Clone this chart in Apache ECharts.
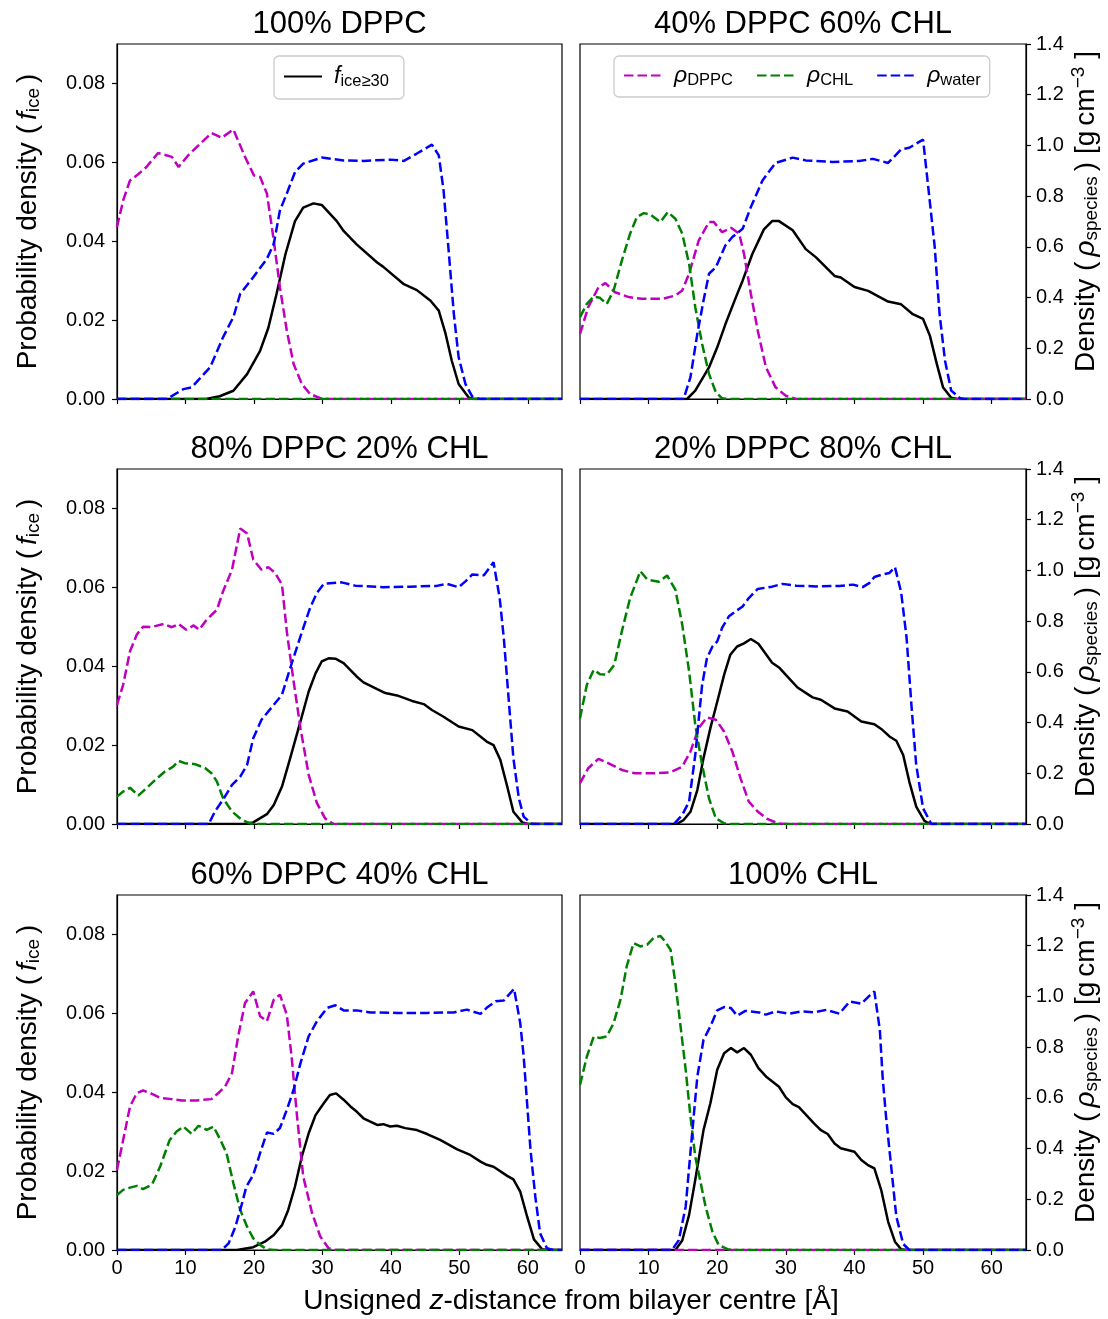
<!DOCTYPE html>
<html>
<head>
<meta charset="utf-8">
<script src="https://cdn.jsdelivr.net/npm/echarts@6/dist/echarts.min.js"></script>
<style>
html,body{margin:0;padding:0;background:#fff;}
#chart{width:1108px;height:1319px;}
</style>
</head>
<body>
<div id="chart"></div>
<script>
// ---------- data: [z (Å), value] ----------
var panelTitles = ['100% DPPC', '40% DPPC 60% CHL', '80% DPPC 20% CHL', '20% DPPC 80% CHL', '60% DPPC 40% CHL', '100% CHL'];
var xTicks = [0, 10, 20, 30, 40, 50, 60];
var fTicks = [0, 0.02, 0.04, 0.06, 0.08];

// 100% DPPC
var p1_fice = [[0,0],[13,0],[15,0.0007],[17,0.0021],[19,0.0063],[20.9,0.0122],[22.1,0.018],[23.3,0.0266],[24.6,0.0367],[26,0.0451],[27.2,0.0485],[28.7,0.0496],[29.9,0.0492],[32.1,0.0451],[33.1,0.0426],[35,0.0392],[38,0.0346],[38.9,0.0335],[41.9,0.0291],[43.8,0.0276],[45.8,0.0249],[47,0.0224],[48,0.0165],[48.9,0.0097],[49.9,0.0038],[51.4,0.0003],[52,0],[65,0]];
var p1_dppc = [[0,0.678],[0.9,0.783],[1.9,0.862],[2.9,0.882],[4.3,0.915],[6,0.97],[8,0.955],[9,0.915],[10.4,0.961],[11.9,1.0],[13.8,1.049],[15.3,1.03],[17,1.063],[18.7,0.955],[20,0.882],[20.9,0.876],[21.9,0.81],[22.9,0.625],[23.8,0.44],[24.8,0.27],[25.8,0.138],[27,0.059],[28.2,0.02],[29.7,0.003],[31,0],[65,0]];
var p1_chl = [[0,0],[65,0]];
var p1_water = [[0,0],[7.3,0],[9.7,0.039],[10.9,0.046],[13.6,0.125],[15.5,0.244],[17,0.323],[18,0.415],[19.9,0.48],[21.9,0.553],[22.9,0.612],[23.8,0.744],[24.8,0.81],[26,0.895],[27.2,0.928],[29.9,0.952],[33.1,0.941],[36,0.939],[39.9,0.944],[41.9,0.939],[43.8,0.968],[46,1.003],[47,0.961],[47.7,0.823],[48.4,0.599],[49.2,0.336],[49.9,0.165],[50.9,0.059],[51.9,0.009],[53,0],[65,0]];

// 40% DPPC 60% CHL
var p2_fice = [[0,0],[15.6,0],[16.8,0.0021],[18.8,0.008],[20,0.0131],[21.2,0.019],[22.7,0.0257],[23.7,0.03],[25.1,0.0367],[26.8,0.043],[28,0.0451],[29,0.0451],[31,0.0428],[32.9,0.038],[34.4,0.0359],[37.1,0.0312],[38,0.0308],[40,0.0284],[42,0.0274],[44.9,0.0247],[46.8,0.024],[48.5,0.0215],[50,0.0203],[51,0.016],[52,0.0089],[52.9,0.003],[54.1,0.0003],[55,0],[65,0]];
var p2_dppc = [[0,0.257],[1.2,0.362],[2.7,0.441],[3.7,0.457],[5.1,0.421],[7.1,0.402],[9,0.395],[12,0.395],[13.9,0.408],[14.9,0.428],[15.9,0.494],[17.3,0.625],[18.8,0.698],[19.5,0.698],[20.7,0.658],[22,0.675],[23.2,0.652],[23.9,0.573],[24.9,0.415],[25.9,0.27],[27.1,0.125],[28.5,0.046],[30,0.013],[31.5,0],[65,0]];
var p2_chl = [[0,0.323],[1,0.375],[2,0.404],[2.9,0.399],[3.9,0.375],[4.9,0.428],[6.1,0.546],[7.3,0.652],[8.3,0.718],[9.3,0.733],[10.2,0.728],[11.7,0.698],[12.8,0.737],[13.9,0.711],[14.9,0.652],[15.9,0.533],[16.8,0.362],[17.8,0.217],[18.8,0.099],[19.8,0.026],[20.7,0.003],[21.5,0],[65,0]];
var p2_water = [[0,0],[15.1,0],[16.1,0.086],[17.1,0.257],[18,0.388],[18.8,0.494],[19.8,0.52],[21.2,0.606],[22.2,0.639],[23.7,0.671],[24.9,0.757],[26.6,0.862],[28.5,0.931],[31,0.952],[32.9,0.941],[36.8,0.935],[40.7,0.939],[42.7,0.947],[44.9,0.931],[46.8,0.984],[48,0.991],[50,1.023],[50.7,0.849],[51.7,0.599],[52.4,0.336],[53.2,0.151],[54.1,0.033],[55.4,0.003],[56,0],[65,0]];

// 80% DPPC 20% CHL
var p3_fice = [[0,0],[18.5,0],[19.9,0.0004],[21.9,0.0025],[22.9,0.0048],[24.1,0.0095],[25.3,0.0167],[26.8,0.026],[28,0.0336],[29,0.0382],[29.9,0.0412],[30.9,0.042],[31.9,0.0419],[33.1,0.0408],[35,0.0374],[36,0.0359],[38,0.0342],[39.2,0.0332],[40.9,0.0326],[43.1,0.0312],[44.8,0.0304],[46,0.0289],[47.7,0.0272],[49.9,0.0247],[51.9,0.0238],[54,0.0209],[55,0.02],[56,0.0162],[57,0.0095],[57.9,0.0031],[59.2,0.0004],[60,0],[65,0]];
var p3_dppc = [[0,0.47],[0.9,0.549],[1.9,0.681],[2.9,0.747],[3.8,0.778],[5.1,0.777],[6.8,0.789],[8,0.776],[9,0.789],[10.1,0.766],[11.2,0.783],[12,0.766],[13.1,0.806],[14.6,0.845],[15.5,0.918],[16.8,1.003],[18,1.165],[19,1.146],[19.9,1.043],[21.1,1.003],[22.1,1.013],[23.1,0.99],[24.1,0.944],[24.8,0.76],[25.8,0.562],[26.8,0.378],[28,0.194],[29.2,0.082],[30.4,0.022],[31.6,0],[65,0]];
var p3_chl = [[0,0.108],[0.9,0.128],[1.9,0.143],[3.1,0.112],[4.3,0.141],[5.6,0.174],[7,0.207],[8.2,0.226],[9,0.249],[9.9,0.24],[11.4,0.236],[12.9,0.22],[13.8,0.2],[14.6,0.167],[15.5,0.101],[16.8,0.049],[18,0.022],[19,0.007],[19.9,0],[65,0]];
var p3_water = [[0,0],[13.4,0],[14.3,0.049],[15.6,0.101],[16.8,0.154],[18,0.187],[19,0.233],[19.9,0.338],[21.1,0.411],[22.9,0.47],[24.1,0.51],[25.3,0.615],[26.8,0.74],[28.2,0.852],[29.2,0.911],[30.2,0.947],[32.8,0.953],[34.8,0.94],[38.9,0.934],[42.8,0.936],[46.7,0.939],[48.2,0.947],[49.9,0.934],[50.9,0.957],[51.9,0.984],[53.6,0.981],[55,1.032],[55.9,0.891],[56.5,0.733],[57.2,0.496],[57.9,0.259],[58.7,0.101],[59.4,0.029],[60.6,0],[65,0]];

// 20% DPPC 80% CHL
var p4_fice = [[0,0],[14.1,0],[15.1,0.001],[16.1,0.0031],[17.1,0.0086],[18,0.0167],[19,0.0243],[20,0.031],[21,0.0378],[21.9,0.0429],[22.9,0.045],[23.9,0.0458],[24.9,0.0469],[26,0.0457],[28,0.0409],[29,0.0397],[30,0.0378],[31.7,0.0346],[33.9,0.0321],[35.1,0.0315],[37.1,0.0293],[39,0.0285],[41,0.026],[42.9,0.0253],[43.9,0.0241],[45.1,0.0222],[46.1,0.0211],[47.1,0.0175],[48,0.0107],[49,0.0044],[50.2,0.0008],[51,0],[65,0]];
var p4_dppc = [[0,0.161],[1.2,0.22],[2.7,0.257],[4.1,0.24],[6.1,0.213],[8,0.2],[11,0.2],[13.2,0.204],[14.9,0.226],[16.1,0.286],[17.3,0.378],[18.5,0.42],[19.8,0.411],[21,0.365],[22.2,0.286],[23.4,0.18],[24.6,0.088],[25.9,0.049],[27.3,0.02],[28.8,0.003],[30,0],[65,0]];
var p4_chl = [[0,0.417],[1,0.549],[2,0.608],[2.9,0.591],[3.9,0.589],[5,0.628],[6.1,0.76],[7.3,0.891],[8.8,0.997],[9.8,0.964],[11.5,0.955],[12.7,0.98],[13.9,0.924],[14.9,0.786],[15.9,0.602],[16.8,0.391],[17.8,0.233],[18.8,0.101],[19.8,0.022],[21,0.003],[22,0],[65,0]];
var p4_water = [[0,0],[13.7,0],[14.9,0.036],[15.9,0.088],[16.8,0.273],[17.8,0.549],[18.5,0.654],[19.3,0.7],[20,0.72],[20.7,0.773],[21.7,0.819],[22.7,0.839],[23.7,0.858],[24.6,0.891],[25.9,0.927],[28,0.936],[29.5,0.947],[31.5,0.94],[34.4,0.937],[37.8,0.939],[39.8,0.944],[41.2,0.934],[42.2,0.951],[42.9,0.974],[44.1,0.984],[45.1,0.99],[45.9,1.013],[46.8,0.915],[47.6,0.733],[48.3,0.47],[49,0.233],[50,0.062],[51.2,0],[65,0]];

// 60% DPPC 40% CHL
var p5_fice = [[0,0],[17.5,0],[19.9,0.0007],[21.6,0.0021],[22.9,0.0038],[24.1,0.0063],[25,0.0101],[26,0.0161],[27,0.0237],[28,0.0296],[29,0.0342],[30.2,0.0372],[31.1,0.0393],[32,0.0397],[33.1,0.0381],[34.1,0.0364],[35,0.0351],[36,0.0334],[38,0.0317],[38.9,0.0319],[39.9,0.0313],[40.9,0.0315],[42.1,0.0309],[43.8,0.0304],[45.3,0.0294],[47.2,0.0279],[49.7,0.0255],[51.6,0.0241],[53.1,0.0224],[54,0.0216],[55,0.0211],[57,0.0188],[57.9,0.0179],[58.9,0.0148],[59.9,0.0085],[60.9,0.0027],[62.1,0.0002],[63,0],[65,0]];
var p5_dppc = [[0,0.316],[0.9,0.434],[1.9,0.566],[2.9,0.619],[3.8,0.629],[5.1,0.616],[6.3,0.6],[7.7,0.596],[9.5,0.59],[11.6,0.59],[13.8,0.595],[14.8,0.619],[15.8,0.645],[16.8,0.698],[17.7,0.843],[18.7,0.974],[19.9,1.02],[20.9,0.922],[21.9,0.902],[22.9,0.987],[23.8,1.007],[24.8,0.928],[25.5,0.764],[26.3,0.527],[27.2,0.29],[28.5,0.145],[29.7,0.053],[30.9,0.007],[32,0],[65,0]];
var p5_chl = [[0,0.217],[0.9,0.237],[1.9,0.246],[2.9,0.253],[3.8,0.24],[5.1,0.257],[6.3,0.329],[7.7,0.434],[8.7,0.467],[9.7,0.487],[10.9,0.458],[11.9,0.49],[13.1,0.474],[14.1,0.487],[15.1,0.434],[16,0.382],[17,0.263],[18,0.158],[19,0.092],[19.9,0.046],[20.9,0.02],[21.9,0.003],[23,0],[65,0]];
var p5_water = [[0,0],[15.3,0],[16.3,0.026],[17.3,0.092],[18.2,0.178],[18.9,0.25],[19.9,0.296],[20.9,0.382],[21.9,0.463],[22.9,0.458],[23.8,0.481],[24.8,0.553],[25.8,0.632],[26.8,0.737],[28,0.843],[29.2,0.902],[30.7,0.955],[31.9,0.965],[33.1,0.945],[35,0.945],[37,0.937],[40.9,0.935],[45.3,0.935],[49.2,0.937],[51.1,0.948],[53.1,0.931],[54,0.955],[55.3,0.981],[56.5,0.984],[58,1.03],[58.9,0.895],[59.4,0.764],[59.9,0.579],[60.4,0.395],[61.1,0.211],[61.8,0.066],[62.8,0.007],[63.8,0],[65,0]];

// 100% CHL
var p6_fice = [[0,0],[13.9,0],[14.9,0.0024],[15.9,0.0089],[16.8,0.0178],[18,0.0304],[19,0.0372],[20,0.0457],[21,0.0499],[22,0.0512],[22.9,0.0501],[23.9,0.0512],[24.9,0.0495],[26,0.0461],[27.1,0.044],[29,0.0414],[30,0.0387],[31,0.037],[31.9,0.0362],[34.1,0.0321],[35.1,0.0304],[36.1,0.0294],[37.1,0.027],[38,0.0258],[40,0.0249],[41,0.0228],[41.9,0.0216],[42.9,0.0207],[43.9,0.0152],[44.9,0.0072],[45.9,0.0021],[46.8,0.0002],[47.5,0],[65,0]];
var p6_dppc = [[0,0],[65,0]];
var p6_chl = [[0,0.651],[1,0.763],[2,0.842],[2.9,0.836],[3.9,0.842],[4.9,0.895],[5.9,0.987],[6.8,1.118],[7.8,1.21],[8.8,1.197],[9.8,1.204],[10.7,1.23],[11.7,1.239],[12.4,1.217],[13.2,1.184],[13.9,1.053],[14.6,0.895],[15.4,0.711],[16.1,0.526],[16.8,0.368],[17.6,0.263],[18.3,0.171],[19.3,0.072],[20.2,0.02],[21.5,0.003],[22.5,0],[65,0]];
var p6_water = [[0,0],[13.4,0],[14.4,0.039],[15.4,0.171],[16.3,0.447],[17.1,0.684],[18,0.829],[19,0.882],[20,0.945],[21,0.958],[22,0.954],[22.9,0.924],[24.1,0.943],[26.1,0.937],[27.1,0.928],[28.5,0.941],[30.5,0.932],[32.2,0.941],[34.1,0.937],[35.9,0.947],[37.8,0.932],[39.3,0.98],[41,0.971],[42.2,1.003],[42.9,1.02],[43.7,0.868],[44.1,0.684],[44.6,0.526],[45.4,0.316],[46.1,0.132],[47.1,0.024],[48,0],[65,0]];

var panels = [
  [p1_fice, p1_dppc, p1_chl, p1_water],
  [p2_fice, p2_dppc, p2_chl, p2_water],
  [p3_fice, p3_dppc, p3_chl, p3_water],
  [p4_fice, p4_dppc, p4_chl, p4_water],
  [p5_fice, p5_dppc, p5_chl, p5_water],
  [p6_fice, p6_dppc, p6_chl, p6_water]
];

// ---------- layout / style ----------
var FONT = '"Liberation Sans", Arial, Helvetica, sans-serif';
var colLeft = [117, 580], colWidth = [445, 446];
var rowTop = [44, 469, 895], rowH = 355;
var AX = {color: '#000', width: 1.2};
var DASH = [9.5, 4];
var LW = 2.5;
var seriesNames = ['f', 'dppc', 'chl', 'water'];
var seriesColors = ['#000000', '#bf00bf', '#008000', '#0000ff'];

var grids = [], xAxes = [], yAxes = [], series = [], graphics = [];
var labelRich = {
  a: {fontSize: 28, fontFamily: FONT, verticalAlign: 'middle'},
  i: {fontSize: 28, fontFamily: FONT, fontStyle: 'italic', verticalAlign: 'middle'},
  s: {fontSize: 19, fontFamily: FONT, padding: [12, 0, 0, 0], verticalAlign: 'middle'},
  p: {fontSize: 19, fontFamily: FONT, padding: [0, 0, 14, 0], verticalAlign: 'middle'},
  g: {width: 5, fontSize: 10},
  h: {width: 8, fontSize: 10}
};
for (var i = 0; i < 6; i++) {
  var row = Math.floor(i / 2), col = i % 2;
  grids.push({left: colLeft[col], top: rowTop[row], width: colWidth[col], height: rowH,
    show: true, borderColor: '#000', borderWidth: 1.2, backgroundColor: '#fff', containLabel: false});
  xAxes.push({
    gridIndex: i, type: 'value', min: 0, max: 65,
    axisLine: {show: true, onZero: false, lineStyle: AX},
    axisTick: {show: true, inside: false, length: 5, lineStyle: AX, customValues: xTicks},
    axisLabel: {show: row === 2, customValues: xTicks, color: '#000', fontSize: 20, fontFamily: FONT, margin: 8},
    splitLine: {show: false}
  });
  yAxes.push({
    gridIndex: i, type: 'value', position: 'left', min: 0, max: 0.09, show: col === 0,
    axisLine: {show: true, onZero: false, lineStyle: AX},
    axisTick: {show: true, inside: false, length: 5, lineStyle: AX, customValues: fTicks},
    axisLabel: {show: true, customValues: fTicks, color: '#000', fontSize: 20, fontFamily: FONT, margin: 12,
      formatter: function (v) { return v.toFixed(2); }},
    splitLine: {show: false}
  });
  yAxes.push({
    gridIndex: i, type: 'value', position: 'right', min: 0, max: 1.4, interval: 0.2, show: col === 1,
    axisLine: {show: true, onZero: false, lineStyle: AX},
    axisTick: {show: true, inside: false, length: 5, lineStyle: AX},
    axisLabel: {show: true, color: '#000', fontSize: 20, fontFamily: FONT, margin: 10,
      formatter: function (v) { return v.toFixed(1); }},
    splitLine: {show: false}
  });
  for (var k = 0; k < 4; k++) {
    series.push({
      type: 'line', name: seriesNames[k], xAxisIndex: i, yAxisIndex: k === 0 ? 2 * i : 2 * i + 1,
      data: panels[i][k], showSymbol: false, symbol: 'none', smooth: false, animation: false,
      lineStyle: {color: seriesColors[k], width: LW, type: k === 0 ? 'solid' : DASH},
      itemStyle: {color: seriesColors[k]}, z: 2 + k
    });
  }
  // panel title
  graphics.push({type: 'text', x: colLeft[col] + colWidth[col] / 2, y: rowTop[row] - 20,
    style: {text: panelTitles[i], fontSize: 31, fontFamily: FONT, fill: '#000',
      textAlign: 'center', textVerticalAlign: 'middle'}});
  // y labels
  if (col === 0) {
    graphics.push({type: 'text', x: 28, y: rowTop[row] + rowH / 2, rotation: Math.PI / 2,
      style: {text: '{a|Probability density (}{g| }{i|f}{s|ice}{g| }{a|)}', fill: '#000',
        textAlign: 'center', textVerticalAlign: 'middle', rich: labelRich}});
  } else {
    graphics.push({type: 'text', x: 1086, y: rowTop[row] + rowH / 2 - 10, rotation: Math.PI / 2,
      style: {text: '{a|Density (}{g| }{i|ρ}{s|species}{g| }{a|) [g}{g| }{a|cm}{p|−3}{h| }{a|]}', fill: '#000',
        textAlign: 'center', textVerticalAlign: 'middle', rich: labelRich}});
  }
}
graphics.push({type: 'text', x: 571, y: 1301,
  style: {text: '{a|Unsigned }{i|z}{a|-distance from bilayer centre [Å]}', fill: '#000',
    textAlign: 'center', textVerticalAlign: 'middle',
    rich: {a: {fontSize: 28, fontFamily: FONT}, i: {fontSize: 28, fontFamily: FONT, fontStyle: 'italic'}}}});

var legendLabels = {
  f: '{g| }{i|f}{s|ice≥30}',
  dppc: '{g| }{i|ρ}{s|DPPC}',
  chl: '{g| }{i|ρ}{s|CHL}',
  water: '{g| }{i|ρ}{s|water}'
};
var legendText = {
  color: '#000', fontFamily: FONT, fontSize: 23,
  rich: {g: {width: 7, fontSize: 10},
         i: {fontSize: 23, fontFamily: FONT, fontStyle: 'italic', verticalAlign: 'middle'},
         s: {fontSize: 16.5, fontFamily: FONT, padding: [10, 0, 0, 0], verticalAlign: 'middle'}}
};
var legendBox = {backgroundColor: 'rgba(255,255,255,0.8)', borderColor: '#cccccc', borderWidth: 1.3,
  borderRadius: 5, itemWidth: 38, itemHeight: 14, selectedMode: false, orient: 'horizontal',
  itemStyle: {opacity: 0},
  textStyle: legendText, formatter: function (n) { return legendLabels[n]; }};

var option = {
  animation: false,
  backgroundColor: '#fff',
  grid: grids, xAxis: xAxes, yAxis: yAxes, series: series,
  legend: [
    Object.assign({}, legendBox, {data: ['f'], left: 274, top: 56, padding: [9, 15, 9, 9], itemGap: 20}),
    Object.assign({}, legendBox, {data: ['dppc', 'chl', 'water'], left: 614, top: 56, padding: [8, 9, 8, 9], itemGap: 23})
  ],
  graphic: graphics
};
var chart = echarts.init(document.getElementById('chart'), null, {renderer: 'canvas'});
chart.setOption(option);
</script>
</body>
</html>
